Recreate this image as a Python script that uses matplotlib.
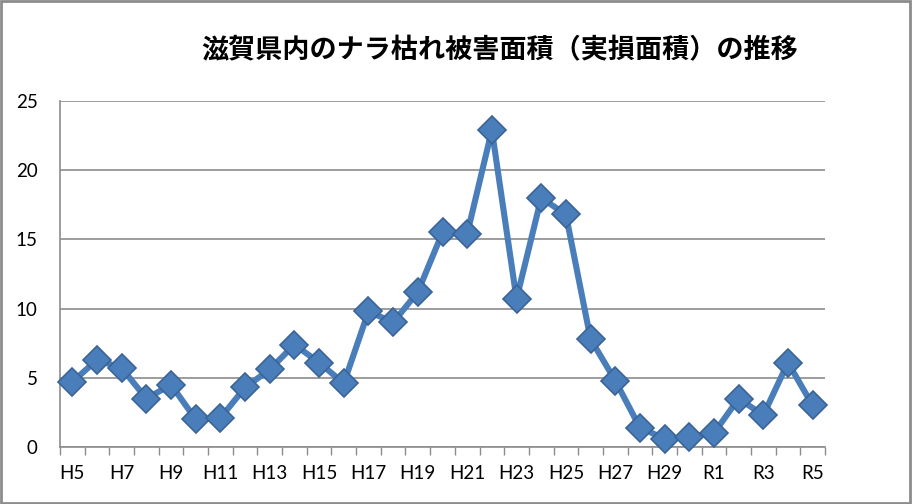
import matplotlib
matplotlib.use("Agg")
import matplotlib.pyplot as plt
from matplotlib.patches import Rectangle
import numpy as np

# 年度ラベル (H5〜H30, R1〜R5)
years = [f"H{i}" for i in range(5, 31)] + [f"R{i}" for i in range(1, 6)]
# 実損面積 (ha)
damage = [4.7, 6.3, 5.7, 3.5, 4.5, 2.0, 2.1, 4.3, 5.6, 7.4,
          6.1, 4.6, 9.8, 9.0, 11.2, 15.5, 15.4, 22.9, 10.7, 18.0,
          16.8, 7.8, 4.8, 1.4, 0.6, 0.7, 1.0, 3.5, 2.3, 6.1, 3.0]
y_ticks = [0, 5, 10, 15, 20, 25]
title = "滋賀県内のナラ枯れ被害面積（実損面積）の推移"

LINE_BLUE = "#4a7ebb"
EDGE_BLUE = "#3a6496"
GRID_GREY = "#8c8c8c"

fig = plt.figure(figsize=(9.13, 5.04), dpi=100)
ax = fig.add_axes([60 / 913, 1 - 447 / 504, 765 / 913, 346 / 504])

x = np.arange(len(years))
ax.plot(x, damage, color=LINE_BLUE, linewidth=4.4, zorder=3,
        marker="D", markersize=14.5, markerfacecolor=LINE_BLUE,
        markeredgecolor=EDGE_BLUE, markeredgewidth=1.2, clip_on=False)

ax.set_xlim(-0.5, len(years) - 0.5)
ax.set_ylim(0, 25)
ax.set_yticks(y_ticks)
ax.set_yticklabels([str(t) for t in y_ticks], fontsize=13.5, family="Lato")
ax.yaxis.grid(True, color=GRID_GREY, linewidth=1.2)
ax.set_axisbelow(True)
ax.tick_params(axis="y", length=0, pad=16)

# category labels every other year, tick marks on category boundaries
ax.set_xticks(x[::2])
ax.set_xticklabels(years[::2], fontsize=13.5, family="Lato")
ax.set_xticks(np.arange(-0.5, len(years)), minor=True)
ax.tick_params(axis="x", which="major", length=0, pad=13)
ax.tick_params(axis="x", which="minor", length=6, color=GRID_GREY, width=1)

for side in ["top", "right"]:
    ax.spines[side].set_visible(False)
for side in ["left", "bottom"]:
    ax.spines[side].set_color(GRID_GREY)
    ax.spines[side].set_linewidth(1.2)

fig.text(500 / 913, 1 - 50 / 504, title, ha="center", va="center",
         fontsize=19.5, fontweight="bold",
         family=["Noto Sans CJK JP", "DejaVu Sans"])

# outer chart-area border
fig.patches.append(Rectangle((0.001, 0.002), 0.996, 0.996, transform=fig.transFigure,
                             fill=False, edgecolor=GRID_GREY, linewidth=2))

fig.savefig("out.png", dpi=100)
